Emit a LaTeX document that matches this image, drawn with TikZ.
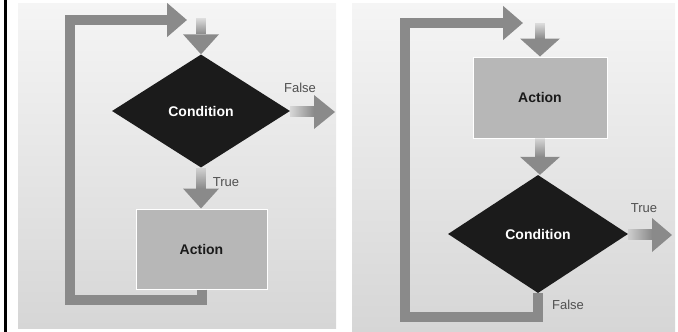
\documentclass[tikz,border=0pt]{standalone}
\usepackage{fontspec}
\setmainfont{Liberation Sans}
\usetikzlibrary{shapes.geometric,arrows.meta,fadings}
\definecolor{bgtop}{HTML}{F5F5F5}
\definecolor{bgbot}{HTML}{D6D6D6}
\definecolor{arrowc}{HTML}{8A8A8A}
\definecolor{diamondc}{HTML}{1B1B1B}
\definecolor{actc}{HTML}{B7B7B7}
\definecolor{textdark}{HTML}{1A1A1A}
\definecolor{lblc}{HTML}{505050}
\tikzfading[name=fadeup, top color=transparent!80, bottom color=transparent!0]
\tikzfading[name=fadeleft, left color=transparent!80, right color=transparent!0]
\begin{document}
\begin{tikzpicture}[x=1pt,y=-1pt,
  cond/.style={diamond, fill=diamondc, minimum width=178pt, minimum height=113pt, inner sep=0pt, text=white, font=\bfseries\fontsize{14}{16}\selectfont},
  act/.style={rectangle, fill=actc, draw=white, line width=1pt, minimum width=131pt, minimum height=80pt, inner sep=0pt, font=\bfseries\fontsize{14}{16}\selectfont, text=textdark},
  loopbar/.style={draw=arrowc, line width=10pt, line join=miter, -{Triangle[width=33pt,length=20pt]}},
  lbl/.style={font=\fontsize{13}{15}\selectfont, text=lblc, inner sep=0pt},
  shaftv/.style={fill=arrowc, path fading=fadeup},
  shafth/.style={fill=arrowc, path fading=fadeleft},
  head/.style={fill=arrowc}]
\useasboundingbox (0,0) rectangle (678,332);
% left black rule
\fill[black] (4,0) rectangle (7,332);
% panels
\shade[top color=bgtop,bottom color=bgbot] (18,3) rectangle (336,328);
\shade[top color=bgtop,bottom color=bgbot] (352,3) rectangle (675,332);

% ---------- left panel ----------
\node[cond] (c1) at (201,111) {Condition};
\node[act] (a1) at (201.5,249) {Action};
\coordinate (in1) at (201,18);
\coordinate (out1) at (335,112);
\coordinate (lp1) at (187,20);
% entry arrow
\fill[shaftv] ([xshift=-5pt]in1) rectangle ([xshift=5pt,yshift=20pt]c1.north);
\fill[head] ([xshift=-18pt,yshift=20pt]c1.north) -- ([xshift=18pt,yshift=20pt]c1.north) -- (c1.north) -- cycle;
% false arrow
\fill[shafth] ([yshift=5pt]c1.east) rectangle ([xshift=-21pt,yshift=-5pt]out1);
\fill[head] ([xshift=-21pt,yshift=17pt]out1) -- ([xshift=-21pt,yshift=-17pt]out1) -- (out1) -- cycle;
\node[lbl] (f1) at (300,88) {False};
% true arrow
\fill[shaftv] ([xshift=-5pt]c1.south) rectangle ([xshift=5pt,yshift=20pt]c1.south |- a1.north);
\fill[head] ([xshift=-18pt,yshift=20pt]c1.south |- a1.north) -- ([xshift=18pt,yshift=20pt]c1.south |- a1.north) -- (c1.south |- a1.north) -- cycle;
\node[lbl] (t1) at (226,182) {True};
% loop
\draw[loopbar] (a1.south) |- (70,300) |- (lp1);

% ---------- right panel ----------
\node[act, minimum width=134pt, minimum height=81pt] (a2) at (540,97.5) {Action};
\node[cond, minimum width=180pt, minimum height=118pt] (c2) at (538,234) {Condition};
\coordinate (in2) at (540,23);
\coordinate (out2) at (672,235);
\coordinate (lp2) at (523,23);
% entry arrow
\fill[shaftv] ([xshift=-5pt]in2) rectangle ([xshift=5pt,yshift=18pt]a2.north);
\fill[head] ([xshift=-20pt,yshift=18pt]a2.north) -- ([xshift=20pt,yshift=18pt]a2.north) -- (a2.north) -- cycle;
% action to condition
\fill[shaftv] ([xshift=-5pt]a2.south) rectangle ([xshift=5pt,yshift=18pt]a2.south |- c2.north);
\fill[head] ([xshift=-20pt,yshift=18pt]a2.south |- c2.north) -- ([xshift=20pt,yshift=18pt]a2.south |- c2.north) -- (a2.south |- c2.north) -- cycle;
% true arrow
\fill[shafth] ([yshift=5pt]c2.east) rectangle ([xshift=-20pt,yshift=-5pt]out2);
\fill[head] ([xshift=-20pt,yshift=17pt]out2) -- ([xshift=-20pt,yshift=-17pt]out2) -- (out2) -- cycle;
\node[lbl] (t2) at (644,208) {True};
\node[lbl] (f2) at (568,305) {False};
% loop
\draw[loopbar] (c2.south) |- (405,317) |- (lp2);
\end{tikzpicture}
\end{document}
